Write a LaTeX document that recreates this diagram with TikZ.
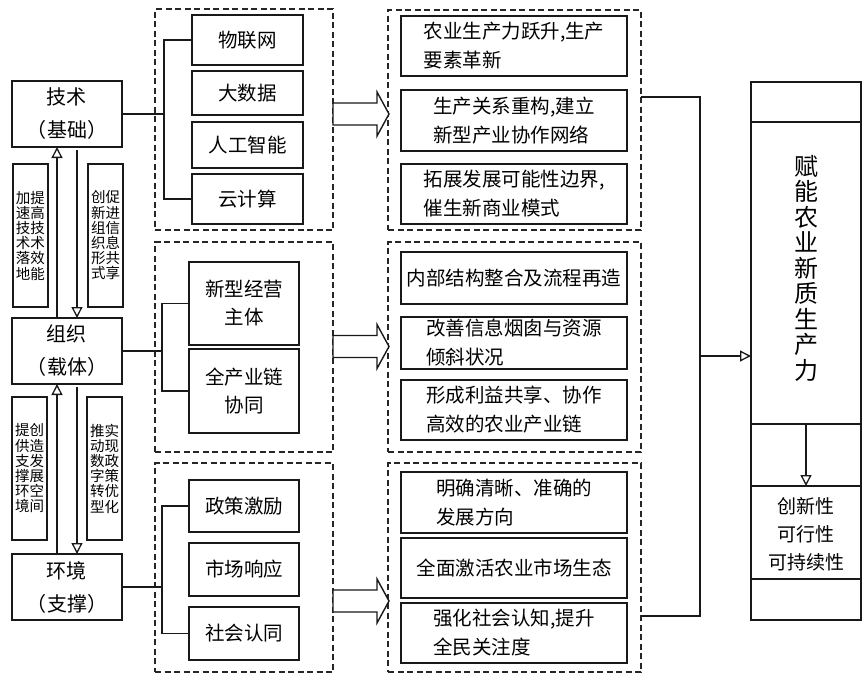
\documentclass[tikz,border=0pt]{standalone}
\usepackage{fontspec}
\setmainfont{Noto Sans CJK SC}
\usetikzlibrary{arrows.meta}
\begin{document}
\begin{tikzpicture}[x=1pt,y=-1pt,
  every node/.style={inner sep=0pt, outer sep=0pt},
  box/.style={draw=black!90, line width=1.4pt, align=center, font=\fontsize{19.5}{28}\selectfont},
  lbox/.style={box, minimum width=110pt, minimum height=66pt, font=\fontsize{20}{33}\selectfont},
  ritem/.style={box, align=left, minimum width=226pt, font=\fontsize{19.5}{29}\selectfont},
  litem/.style={box, minimum width=110pt},
  group/.style={draw=black!85, line width=1.3pt, dash pattern=on 6pt off 3.5pt, minimum width=178pt},
  rgroup/.style={group, minimum width=253pt},
  vtext/.style={box, font=\fontsize{14.5}{15.2}\selectfont, minimum width=35pt, minimum height=143pt},
  conn/.style={draw=black!90, line width=1.4pt},
  openarrow/.style={conn, -{Triangle[open, length=11pt, width=11pt, line width=1.3pt]}},
  blockarrow/.pic={\draw[draw=black!90, line width=1.4pt, fill=white]
     (0,-11) -- (44,-11) -- (44,-22) -- (56,0) -- (44,22) -- (44,11) -- (0,11) -- cycle;}
]
\useasboundingbox (0,0) rectangle (864,675);

% dashed groups
\node[group, minimum height=221pt] (lg1) at (244,119.5) {};
\node[group, minimum height=210pt] (lg2) at (244,347) {};
\node[group, minimum height=209pt] (lg3) at (244,567.5) {};
\node[rgroup, minimum height=220pt] (rg1) at (514.5,120) {};
\node[rgroup, minimum height=210pt] (rg2) at (514.5,347) {};
\node[rgroup, minimum height=209pt] (rg3) at (514.5,567.5) {};

% left column
\node[lbox] (tech) at (67,114) {技术\\（基础）};
\node[lbox] (org) at (67,351) {组织\\（载体）};
\node[lbox] (env) at (67,587) {环境\\（支撑）};
\node[vtext] (t1) at (30.5,235.5) {加提\\速高\\技技\\术术\\落效\\地能};
\node[vtext] (t2) at (105.5,235.5) {创促\\新进\\组信\\织息\\形共\\式享};
\node[vtext] (t3) at (29.5,468.5) {提创\\供造\\支发\\撑展\\环空\\境间};
\node[vtext] (t4) at (104.5,468.5) {推实\\动现\\数政\\字策\\转优\\型化};
\draw[openarrow] ([xshift=-10pt]org.north) -- ([xshift=-10pt]tech.south);
\draw[openarrow] ([xshift=10pt,yshift=-3pt]tech.south) -- ([xshift=10pt]org.north);
\draw[openarrow] ([xshift=-10pt]env.north) -- ([xshift=-10pt]org.south);
\draw[openarrow] ([xshift=10pt,yshift=-3pt]org.south) -- ([xshift=10pt]env.north);

% group 1 items
\node[litem, minimum width=111pt, minimum height=50pt] (w1) at (247.5,40) {物联网};
\node[litem, minimum width=111pt, minimum height=44pt] (w2) at (247.5,93) {大数据};
\node[litem, minimum width=111pt, minimum height=46pt] (w3) at (247.5,145) {人工智能};
\node[litem, minimum width=111pt, minimum height=50pt] (w4) at (247.5,199) {云计算};
\coordinate (bt) at (164,114);
\draw[conn] (tech.east) -- (bt);
\draw[conn] (w1.west) -- (w1.west -| bt) -- (w4.west -| bt) -- (w4.west);

% group 2 items
\node[litem, minimum height=83pt] (n1) at (244,303.5) {新型经营\\主体};
\node[litem, minimum height=84pt] (n2) at (244,391) {全产业链\\协同};
\coordinate (bo) at (162,351);
\draw[conn] (org.east) -- (bo);
\draw[conn] (n1.west) -- (n1.west -| bo) -- (n2.west -| bo) -- (n2.west);

% group 3 items
\node[litem, minimum height=52pt] (e1) at (244,506) {政策激励};
\node[litem, minimum height=53pt] (e2) at (244,569.5) {市场响应};
\node[litem, minimum height=53pt] (e3) at (244,633.5) {社会认同};
\coordinate (be) at (162,587);
\draw[conn] (env.east) -- (be);
\draw[conn] (e1.west) -- (e1.west -| be) -- (e3.west -| be) -- (e3.west);

% right items
\node[ritem, minimum height=60pt] (r1) at (514,46) {农业生产力跃升,生产\\要素革新};
\node[ritem, minimum height=61pt] (r2) at (514,120.5) {生产关系重构,建立\\新型产业协作网络};
\node[ritem, minimum height=60pt] (r3) at (514,194) {拓展发展可能性边界,\\催生新商业模式};
\node[ritem, minimum height=52pt] (r4) at (514,278) {内部结构整合及流程再造};
\node[ritem, minimum height=52pt] (r5) at (514,343) {改善信息烟囱与资源\\倾斜状况};
\node[ritem, minimum height=60pt] (r6) at (514,410) {形成利益共享、协作\\高效的农业产业链};
\node[ritem, minimum height=61pt] (r7) at (514,502.5) {明确清晰、准确的\\发展方向};
\node[ritem, minimum height=60pt] (r8) at (514,568) {全面激活农业市场生态};
\node[ritem, minimum height=60pt] (r9) at (514,633) {强化社会认知,提升\\全民关注度};

% block arrows
\pic at (lg1.east |- 0,114) {blockarrow};
\pic at (lg2.east |- 0,346.5) {blockarrow};
\pic at (lg3.east |- 0,601) {blockarrow};

% main box
\node[draw=black!90, line width=1.4pt, minimum width=110pt, minimum height=538pt] (main) at (806,351) {};
\draw[conn] (main.west |- 0,122) -- (main.east |- 0,122);
\draw[conn] (main.west |- 0,424) -- (main.east |- 0,424);
\draw[conn] (main.west |- 0,486) -- (main.east |- 0,486);
\draw[conn] (main.west |- 0,579) -- (main.east |- 0,579);
\node[align=center, font=\fontsize{24}{25.5}\selectfont] (mt) at (806,268) {赋\\能\\农\\业\\新\\质\\生\\产\\力};
\node[align=center, font=\fontsize{19}{28}\selectfont] (mq) at (806,534) {创新性\\可行性\\可持续性};
\coordinate (d2) at (806,424);
\coordinate (d3) at (806,486);
\draw[openarrow] (d2) -- (d3);

% right connector
\coordinate (rj) at (700,356);
\draw[conn] ([yshift=23pt]rg1.east) -| (rj);
\draw[conn] ([yshift=-48.5pt]rg3.east) -| (rj);
\draw[openarrow] (rj) -- (rj -| main.west);
\end{tikzpicture}
\end{document}
